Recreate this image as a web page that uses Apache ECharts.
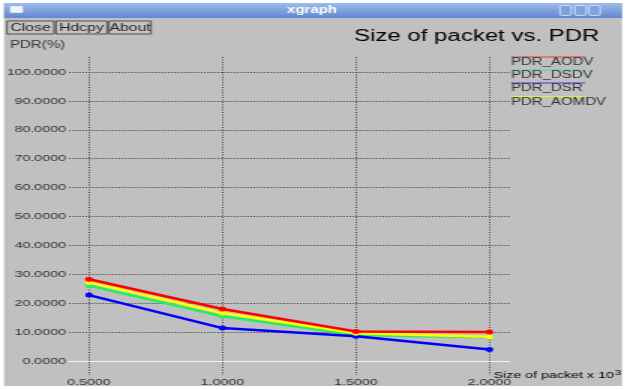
<!DOCTYPE html>
<html>
<head>
<meta charset="utf-8">
<script src="https://cdn.jsdelivr.net/npm/echarts@6/dist/echarts.min.js"></script>
<style>
  html, body { margin: 0; padding: 0; background: #ffffff; overflow: hidden; }
  #wrap { width: 625px; height: 389px; overflow: hidden; }
  #chart { width: 416.667px; height: 389px; transform: scaleX(1.5); transform-origin: 0 0; }
</style>
</head>
<body>
<div id="wrap"><div id="chart"></div></div>
<script>
// ---- data ----
var xValues = [0.5, 1.0, 1.5, 2.0];
var xTicks = [0.5, 1.0, 1.5, 2.0];
var yTicks = [0, 10, 20, 30, 40, 50, 60, 70, 80, 90, 100];
var seriesNames = ['PDR_AODV', 'PDR_DSDV', 'PDR_DSR', 'PDR_AOMDV'];
var pdrAODV  = [28.3, 18.0, 10.2, 10.0];
var pdrDSDV  = [26.1, 15.5, 9.0, 8.2];
var pdrDSR   = [22.8, 11.4, 8.6, 4.0];
var pdrAOMDV = [27.2, 16.6, 9.6, 8.4];
var seriesColors = ['#ff0000', '#22ee66', '#0000ff', '#ffff00'];
var titleText = 'Size of packet vs. PDR';
var yName = 'PDR(%)';
var xName = 'Size of packet x 10';
var buttons = ['Close', 'Hdcpy', 'About'];

var seriesValues = [pdrAODV, pdrDSDV, pdrDSR, pdrAOMDV];
var font = 'Liberation Sans, Arial, Helvetica, sans-serif';
var W = 416.667;

var chart = echarts.init(document.getElementById('chart'));

function pairs(vals) { return xValues.map(function (x, i) { return [x, vals[i]]; }); }

// draw order: green, blue, yellow, red (red on top)
var drawOrder = [1, 2, 3, 0];
var series = drawOrder.map(function (k, idx) {
  return {
    name: seriesNames[k],
    type: 'line',
    xAxisIndex: 2, yAxisIndex: 2,
    data: pairs(seriesValues[k]),
    symbol: 'circle', symbolSize: 5,
    showSymbol: true,
    z: 3 + idx,
    lineStyle: { color: seriesColors[k], width: 2.5 },
    itemStyle: { color: seriesColors[k] },
    animation: false
  };
});

var graphics = [];
// white frame
graphics.push({ type: 'rect', shape: { x: 0, y: 0, width: W, height: 3 }, style: { fill: '#ffffff' }, z: 100 });
graphics.push({ type: 'rect', shape: { x: 0, y: 386, width: W, height: 3 }, style: { fill: '#ffffff' }, z: 100 });
graphics.push({ type: 'rect', shape: { x: 0, y: 0, width: 2.7, height: 389 }, style: { fill: '#ffffff' }, z: 100 });
graphics.push({ type: 'rect', shape: { x: 414.7, y: 0, width: 3, height: 389 }, style: { fill: '#ffffff' }, z: 100 });
// title bar
graphics.push({ type: 'rect', shape: { x: 2.7, y: 3, width: 412, height: 15 },
  style: { fill: new echarts.graphic.LinearGradient(0, 0, 0, 1, [{ offset: 0, color: '#9fbbea' }, { offset: 1, color: '#6088d0' }]) }, z: 101 });
graphics.push({ type: 'rect', shape: { x: 7, y: 6.5, width: 8, height: 6 }, style: { fill: '#eef2fa', stroke: '#ffffff', lineWidth: 0.5 }, z: 102 });
graphics.push({ type: 'text', x: 208, y: 10.5, style: { text: 'xgraph', fill: '#ffffff', font: 'bold 10px ' + font, align: 'center', verticalAlign: 'middle' }, z: 102 });
[373.3, 383.3, 392.7].forEach(function (bx) {
  graphics.push({ type: 'rect', shape: { x: bx, y: 5.5, width: 7.5, height: 10, r: 1.5 }, style: { fill: '#7fa2dc', stroke: '#dfe7f6', lineWidth: 0.8 }, z: 102 });
});
// buttons
var btnX = [4.7, 37.3, 72.7];
var btnW = [31.3, 34, 28];
buttons.forEach(function (b, i) {
  graphics.push({ type: 'rect', shape: { x: btnX[i], y: 21, width: btnW[i], height: 13 }, style: { fill: '#c4c4c4', stroke: '#333333', lineWidth: 0.8 }, z: 10 });
  graphics.push({ type: 'text', x: btnX[i] + btnW[i] / 2, y: 27.8, style: { text: b, fill: '#222222', font: '10.5px ' + font, align: 'center', verticalAlign: 'middle' }, z: 11 });
});
// y name
graphics.push({ type: 'text', x: 6.7, y: 45, style: { text: yName, fill: '#333333', font: '10px ' + font, verticalAlign: 'middle' }, z: 10 });
// x name with superscript
graphics.push({ type: 'text', x: 329, y: 375.5, style: {
  text: '{a|' + xName + '}{b|3}', verticalAlign: 'middle',
  rich: { a: { fontSize: 9.5, fontFamily: font, color: '#333333' }, b: { fontSize: 8, fontFamily: font, color: '#333333', verticalAlign: 'top', padding: [0, 0, 6, 0.5] } }
}, z: 10 });
// legend
var legY = [57, 70, 83, 96.5];
seriesNames.forEach(function (n, i) {
  graphics.push({ type: 'line', shape: { x1: 340.7, y1: legY[i], x2: 390, y2: legY[i] }, style: { stroke: seriesColors[i], lineWidth: 1.2, opacity: 0.7 }, z: 10 });
  graphics.push({ type: 'text', x: 340.7, y: legY[i] + 5.5, style: { text: n, fill: '#333333', font: '10px ' + font, verticalAlign: 'middle' }, z: 10 });
});

var option = {
  backgroundColor: '#c0c0c0',
  animation: false,
  title: {
    text: titleText, left: 231, top: 24,
    textStyle: { fontFamily: font, fontSize: 16, fontWeight: 'normal', color: '#000000' }
  },
  grid: [
    { left: 46, right: W - 339.3, top: 72, bottom: 28 },
    { left: 59.33, right: W - 326, top: 57, bottom: 14 },
    { left: 59.33, right: W - 326, top: 72, bottom: 28 }
  ],
  xAxis: [
    { gridIndex: 0, type: 'value', min: 0, max: 1, axisLabel: { show: false }, axisTick: { show: false }, splitLine: { show: false },
      axisLine: { show: true, onZero: false, lineStyle: { color: '#f2f2f2', width: 1 } } },
    { gridIndex: 1, type: 'value', min: xTicks[0], max: xTicks[xTicks.length - 1], interval: 0.5,
      axisLine: { show: false }, axisTick: { show: false },
      axisLabel: { show: true, margin: 2, fontSize: 9.5, fontFamily: font, color: '#333333', formatter: function (v) { return v.toFixed(4); } },
      splitLine: { show: true, lineStyle: { color: '#444444', type: [1, 1.5], width: 1 } } },
    { gridIndex: 2, type: 'value', min: xTicks[0], max: xTicks[xTicks.length - 1], show: false }
  ],
  yAxis: [
    { gridIndex: 0, type: 'value', min: yTicks[0], max: yTicks[yTicks.length - 1], interval: 10,
      axisLine: { show: false }, axisTick: { show: false },
      axisLabel: { margin: 2, fontSize: 9.5, fontFamily: font, color: '#333333', formatter: function (v) { return v.toFixed(4); } },
      splitLine: { show: true, lineStyle: { color: '#444444', type: [1, 1.2], width: 1 } } },
    { gridIndex: 1, type: 'value', min: 0, max: 1, show: false, splitLine: { show: false } },
    { gridIndex: 2, type: 'value', min: yTicks[0], max: yTicks[yTicks.length - 1], show: false, splitLine: { show: false } }
  ],
  graphic: graphics,
  series: series
};
chart.setOption(option);
</script>
</body>
</html>
